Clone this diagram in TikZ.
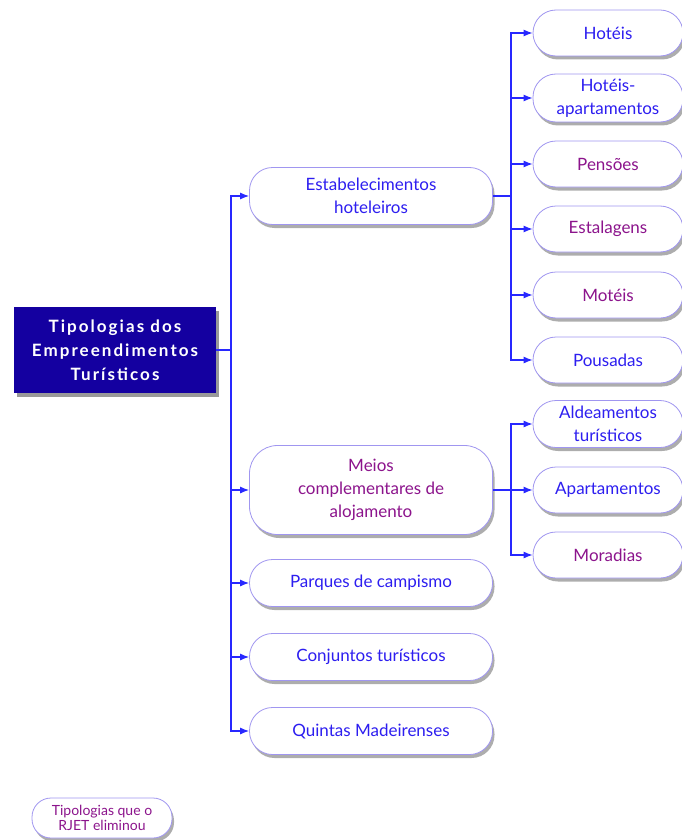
\documentclass[tikz,border=0pt]{standalone}
\usepackage{fontspec}
\setmainfont{Lato}
\usetikzlibrary{shapes.misc,shadows,arrows.meta}
\definecolor{lineblue}{RGB}{40,40,255}
\definecolor{txtblue}{RGB}{45,30,240}
\definecolor{txtpurple}{RGB}{140,20,140}
\definecolor{rootfill}{RGB}{20,0,160}
\definecolor{pillborder}{RGB}{160,150,240}
\tikzset{
  pill/.style={draw=pillborder, line width=0.8pt, fill=white, rounded corners=23pt,
    align=center, inner sep=2pt, font=\fontsize{17}{23}\selectfont,
    drop shadow={shadow xshift=2pt, shadow yshift=-3.5pt, fill=black, opacity=0.32}},
  lone/.style={pill, minimum width=243pt},
  ltwo/.style={pill, minimum width=150pt, minimum height=46pt},
  bl/.style={text=txtblue},
  pu/.style={text=txtpurple},
  conn/.style={draw=lineblue, line width=1.1pt},
  arr/.style={conn, -{Latex[length=9pt,width=7pt]}},
}
\begin{document}
\begin{tikzpicture}[x=1pt,y=-1pt]
\useasboundingbox (0,0) rectangle (682,840);
% root
\node[fill=rootfill, minimum width=202pt, minimum height=86pt, align=center,
  text=white, font=\fontsize{17}{24}\selectfont\bfseries\addfontfeature{LetterSpace=12},
  drop shadow={shadow xshift=2.5pt, shadow yshift=-3.5pt, fill=black, opacity=0.4}]
  (root) at (115,350) {Tipologias dos\\Empreendimentos\\Turísticos};
% level 1
\node[lone, bl, minimum height=57pt] (est) at (371,196) {Estabelecimentos\\hoteleiros};
\node[lone, pu, minimum height=89pt, rounded corners=28pt] (mei) at (371,490) {Meios\\complementares de\\alojamento};
\node[lone, bl, minimum height=47pt] (par) at (371,583) {Parques de campismo};
\node[lone, bl, minimum height=47pt] (con) at (371,657) {Conjuntos turísticos};
\node[lone, bl, minimum height=47pt] (qui) at (371,731) {Quintas Madeirenses};
% level 2 upper
\node[ltwo, bl] (hot) at (608,33) {Hotéis};
\node[ltwo, bl, minimum height=48pt] (hap) at (608,98) {Hotéis-\\apartamentos};
\node[ltwo, pu] (pen) at (608,164) {Pensões};
\node[ltwo, pu] (esl) at (608,229) {Estalagens};
\node[ltwo, pu] (mot) at (608,295) {Motéis};
\node[ltwo, bl] (pou) at (608,360) {Pousadas};
% level 2 lower
\node[ltwo, bl, minimum height=47pt] (ald) at (608,424) {Aldeamentos\\turísticos};
\node[ltwo, bl] (apa) at (608,490) {Apartamentos};
\node[ltwo, pu] (mor) at (608,555) {Moradias};
% legend
\node[pill, pu, minimum width=140pt, minimum height=40pt, rounded corners=19pt,
  font=\fontsize{14}{15}\selectfont] (leg) at (102,818) {Tipologias que o\\RJET eliminou};
% connectors
\coordinate (j0) at (231,350);
\draw[conn] (root.east) -- (j0);
\foreach \n in {est,mei,par,con,qui} \draw[arr] (j0) |- (\n.west);
\coordinate (j1) at (511,196);
\draw[conn] (est.east) -- (j1);
\foreach \n in {hot,hap,pen,esl,mot,pou} \draw[arr] (j1) |- (\n.west);
\coordinate (j2) at (511,490);
\draw[conn] (mei.east) -- (j2);
\foreach \n in {ald,apa,mor} \draw[arr] (j2) |- (\n.west);
\end{tikzpicture}
\end{document}
